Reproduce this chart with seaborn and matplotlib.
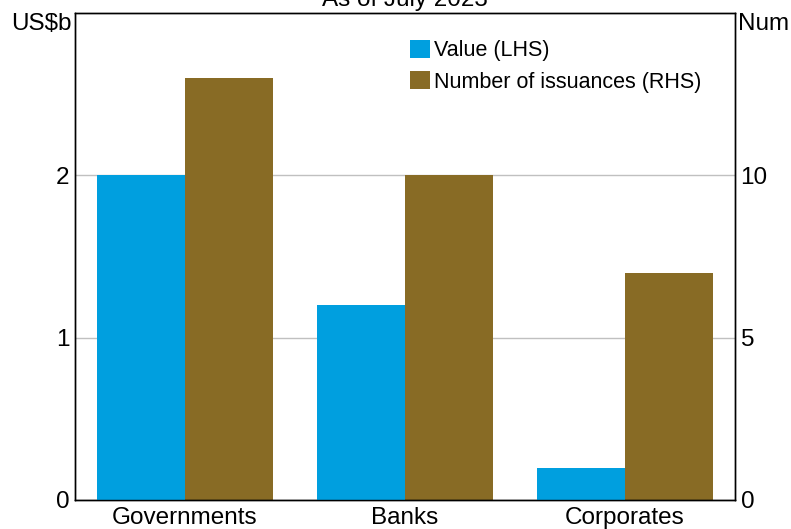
import numpy as np
import pandas as pd
import matplotlib
matplotlib.use("Agg")
import matplotlib.pyplot as plt
import seaborn as sns
from matplotlib.patches import Patch

# ── data ──────────────────────────────────────────
categories = ["Governments", "Banks", "Corporates"]
value_usdb = [2.0, 1.2, 0.2]          # LHS, US$b
num_issuances = [13, 10, 7]           # RHS, number
series = ["Value (LHS)", "Number of issuances (RHS)"]
colors = ["#009FDF", "#886B25"]

sns.set_style("white")
plt.rcParams["font.family"] = ["Liberation Sans", "DejaVu Sans"]
plt.rcParams["text.color"] = "black"
plt.rcParams["xtick.color"] = "black"
plt.rcParams["ytick.color"] = "black"

df = pd.DataFrame({
    "cat": categories * 2,
    "series": [series[0]] * 3 + [series[1]] * 3,
    "lhs": value_usdb + [np.nan] * 3,
    "rhs": [np.nan] * 3 + num_issuances,
})

fig = plt.figure(figsize=(7.91, 5.29), dpi=100)
ax = fig.add_axes([75 / 791, 29 / 529, 660 / 791, 487 / 529])
ax2 = ax.twinx()

sns.barplot(data=df, x="cat", y="lhs", hue="series", hue_order=series,
            palette=colors, order=categories, width=0.8, saturation=1,
            linewidth=0, ax=ax, legend=False)
sns.barplot(data=df, x="cat", y="rhs", hue="series", hue_order=series,
            palette=colors, order=categories, width=0.8, saturation=1,
            linewidth=0, ax=ax2, legend=False)

ax.set_xlim(-0.5, 2.5)
ax.set_ylim(0, 3)
ax2.set_ylim(0, 15)
ax.set_yticks([0, 1, 2])
ax2.set_yticks([0, 5, 10])
ax.set_xlabel("")
ax.set_ylabel("")
ax2.set_ylabel("")

# gridlines behind all bars: draw on the back axes (ax2)
ax.yaxis.grid(False)
ax2.set_axisbelow(True)
ax2.yaxis.grid(True, color="#c0c0c0", linewidth=1)
ax.set_zorder(ax2.get_zorder() + 1)
ax.patch.set_visible(False)

ax.tick_params(axis="y", length=0, labelsize=17.5, pad=4, labelcolor="black")
ax2.tick_params(axis="y", length=0, labelsize=17.5, pad=4, labelcolor="black")
ax.tick_params(axis="x", which="major", length=0, labelsize=17.5, pad=5, labelcolor="black")
ax.set_xticks([0.5, 1.5], minor=True)
ax.tick_params(axis="x", which="minor", direction="in", length=7, width=1.2, color="#555555")

for a in (ax, ax2):
    for s in a.spines.values():
        s.set_color("black")
        s.set_linewidth(1)

ax.text(-0.005, 1.0, "US$b", transform=ax.transAxes, ha="right", va="top",
        fontsize=17.5, color="black")
ax2.text(1.005, 1.0, "Num", transform=ax2.transAxes, ha="left", va="top",
         fontsize=17.5, color="black")

fig.text(405 / 791, 1 - 6 / 529, "As of July 2023", ha="center", va="baseline",
         fontsize=17.5, color="black")

handles = [Patch(facecolor=c, edgecolor="none") for c in colors]
leg = ax.legend(handles, series, loc="upper left", bbox_to_anchor=(0.508, 0.945),
                frameon=False, fontsize=15.5, handlelength=0.93, handleheight=0.93,
                handletextpad=0.15, labelspacing=0.45, borderaxespad=0, borderpad=0)
for t in leg.get_texts():
    t.set_color("black")

fig.savefig("out.png", dpi=100)
